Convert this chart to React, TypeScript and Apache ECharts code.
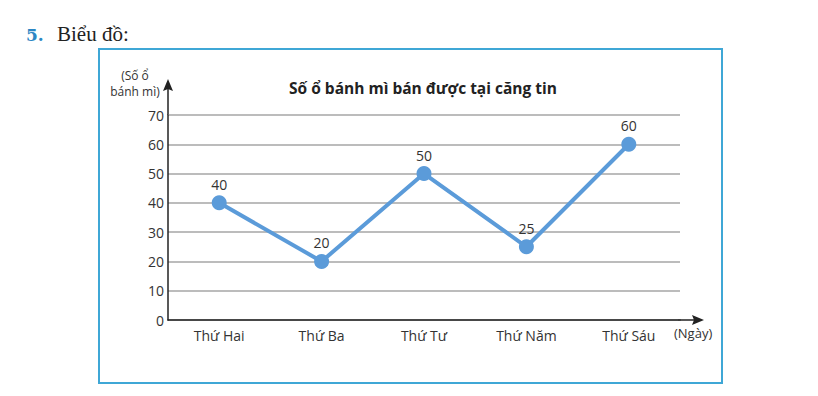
import React, { useEffect, useRef } from "react";
import * as echarts from "echarts";

const days = ["Thứ Hai", "Thứ Ba", "Thứ Tư", "Thứ Năm", "Thứ Sáu"];
const breadSold = [40, 20, 50, 25, 60];
const yTicks = [0, 10, 20, 30, 40, 50, 60, 70];

const FONT = "'Open Sans', 'Noto Sans', sans-serif";

export default function App() {
  const ref = useRef<HTMLDivElement>(null);
  useEffect(() => {
    document.body.style.margin = "0";
    if (!ref.current) return;
    const chart = echarts.init(ref.current, undefined, { renderer: "svg" });
    const axisColor = "#222";
    chart.setOption({
      animation: false,
      backgroundColor: "#fff",
      title: {
        text: "Số ổ bánh mì bán được tại căng tin",
        left: 418,
        top: 75,
        textAlign: "center",
        textStyle: { fontFamily: FONT, fontSize: 15.5, fontWeight: "bold", color: "#222" },
      },
      grid: { left: 168, right: 138, top: 115, bottom: 76 },
      xAxis: {
        type: "category",
        data: days,
        boundaryGap: true,
        axisLine: { lineStyle: { color: axisColor, width: 1.5 } },
        axisTick: { alignWithLabel: true, length: 4, inside: false, lineStyle: { color: axisColor, width: 1.5 } },
        axisLabel: { fontFamily: FONT, fontSize: 14, color: "#333", margin: 8 },
        splitLine: { show: false },
      },
      yAxis: {
        type: "value",
        min: yTicks[0],
        max: yTicks[yTicks.length - 1],
        interval: 10,
        axisLine: { show: true, lineStyle: { color: axisColor, width: 1.5 } },
        axisTick: { show: false },
        axisLabel: { fontFamily: FONT, fontSize: 14, color: "#333", margin: 4 },
        splitLine: { show: true, lineStyle: { color: "#a6a6a6", width: 1.5 } },
      },
      series: [
        {
          type: "line",
          data: breadSold,
          symbol: "circle",
          symbolSize: 15,
          itemStyle: { color: "#5b9bd9" },
          lineStyle: { color: "#5b9bd9", width: 4 },
          label: {
            show: true,
            position: "top",
            distance: 4,
            fontFamily: FONT,
            fontSize: 14,
            color: "#333",
          },
        },
      ],
      graphic: [
        {
          type: "rect",
          shape: { x: 99, y: 49, width: 623, height: 334 },
          style: { fill: "none", stroke: "#3fa7d6", lineWidth: 2 },
          z: 0,
        },
        {
          type: "text",
          x: 26,
          y: 26,
          style: { text: "5.", fontFamily: "'DejaVu Serif', serif", fontSize: 17, fontWeight: "bold", fill: "#2c86c4" },
        },
        {
          type: "text",
          x: 57,
          y: 23,
          style: { text: "Biểu đồ:", fontFamily: "'Liberation Serif', serif", fontSize: 21, fill: "#222" },
        },
        {
          type: "line",
          shape: { x1: 678, y1: 320, x2: 697, y2: 320 },
          style: { stroke: axisColor, lineWidth: 1.5 },
        },
        {
          type: "polygon",
          shape: { points: [[704, 320], [692, 315], [694, 320], [692, 325]] },
          style: { fill: axisColor },
        },
        {
          type: "line",
          shape: { x1: 168, y1: 115, x2: 168, y2: 86 },
          style: { stroke: axisColor, lineWidth: 1.5 },
        },
        {
          type: "polygon",
          shape: { points: [[168, 79], [163, 91], [168, 89], [173, 91]] },
          style: { fill: axisColor },
        },
        {
          type: "text",
          x: 135,
          y: 67,
          style: {
            text: "(Số ổ\nbánh mì)",
            fontFamily: FONT,
            fontSize: 12,
            lineHeight: 16,
            align: "center",
            fill: "#333",
          },
        },
        {
          type: "text",
          x: 674,
          y: 326,
          style: { text: "(Ngày)", fontFamily: FONT, fontSize: 13, fill: "#333" },
        },
      ],
    });
    return () => chart.dispose();
  }, []);
  return <div ref={ref} style={{ width: 818, height: 396 }} />;
}
